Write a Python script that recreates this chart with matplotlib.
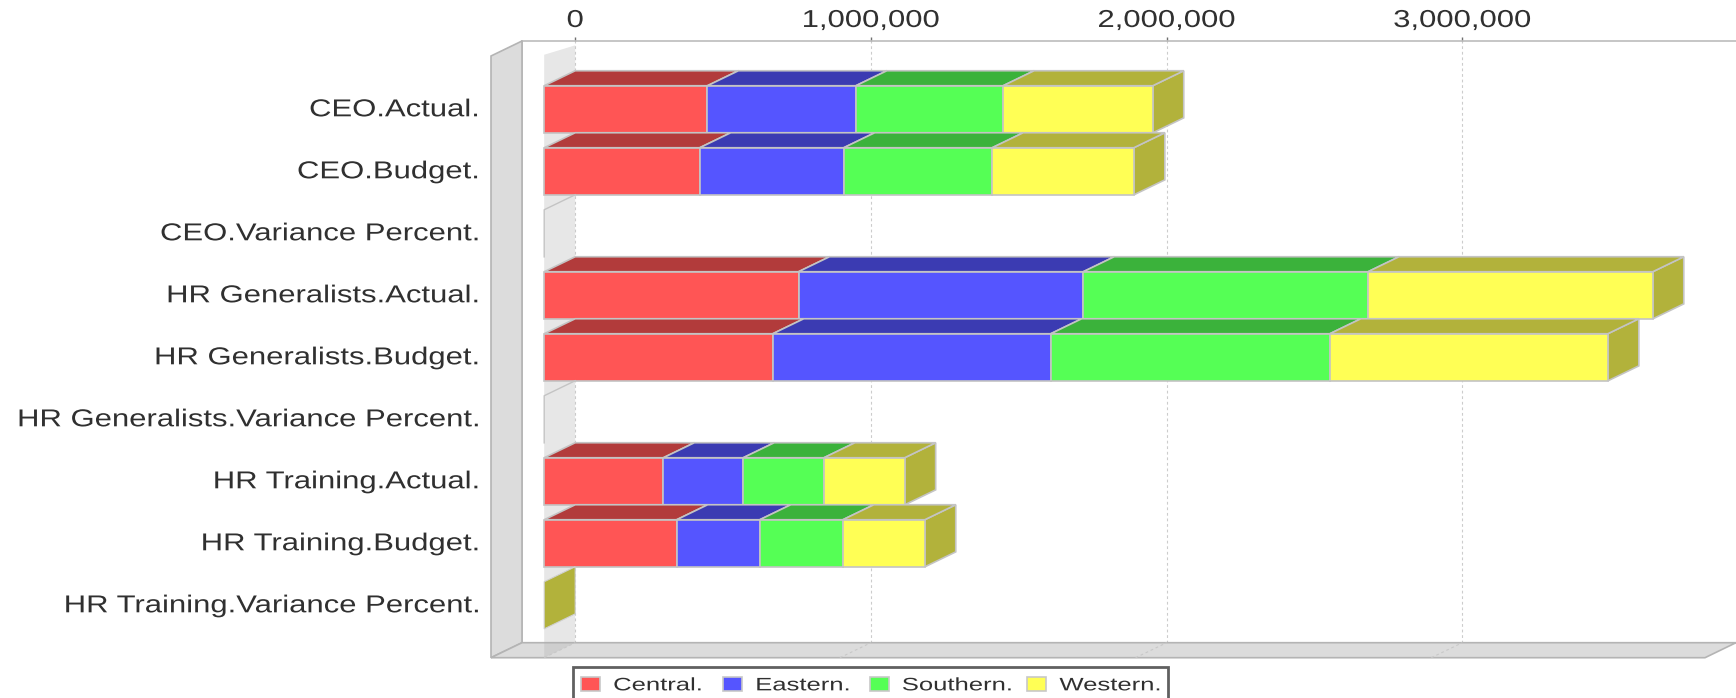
#!/usr/bin/env python3

import matplotlib
matplotlib.use("Agg")
import matplotlib.pyplot as plt
from matplotlib.patches import Patch, Rectangle
from matplotlib.patheffects import AbstractPathEffect
from matplotlib.ticker import StrMethodFormatter
from matplotlib.transforms import Affine2D

categories = [
    "CEO.Actual.", "CEO.Budget.", "CEO.Variance Percent.",
    "HR Generalists.Actual.", "HR Generalists.Budget.", "HR Generalists.Variance Percent.",
    "HR Training.Actual.", "HR Training.Budget.", "HR Training.Variance Percent.",
]
central = [552000, 526000, 0, 860000, 773000, 0, 403000, 448000, 0]
eastern = [502000, 487000, 0, 963000, 940000, 0, 270000, 281000, 0]
southern = [498000, 502000, 0, 963000, 944000, 0, 273000, 281000, 0]
western = [506000, 479000, 0, 963000, 940000, 0, 273000, 277000, 0]
# the zero rows are only painted for the last category in the source chart
zero_row_painted = [False, False, False, False, False, False, False, False, True]
x_ticks = [0, 1000000, 2000000, 3000000]

series_names = ["Central.", "Eastern.", "Southern.", "Western."]
face_colors = ["#ff5555", "#5555ff", "#55ff55", "#ffff55"]
dark_colors = ["#b23b3b", "#3b3bb2", "#3bb23b", "#b2b23b"]

WIDTH, HEIGHT = 1736, 698
PLANE_LEFT, PLANE_RIGHT = 491, 1705
PLANE_TOP, PLANE_BOTTOM = 56, 657.7
DEPTH_X, DEPTH_Y = 31, 15
ZERO_PX = 544.2
PX_PER_UNIT = 295.7 / 1000000
FIRST_ROW_PX = 109.3
ROW_PX = 62
BAR_HEIGHT = 0.76
EDGE = "#c4c4c4"
TEXT = "#303030"


# The source image is stretched sideways, the glyphs are wider than any font here.
class StretchX(AbstractPathEffect):
    def __init__(self, factor, anchor):
        super().__init__()
        self.factor = factor
        self.anchor = anchor

    def draw_path(self, renderer, gc, tpath, affine, rgbFace=None):
        box = tpath.get_extents()
        fixed = {"left": box.x0, "right": box.x1, "center": (box.x0 + box.x1) / 2}[self.anchor]
        local = Affine2D().translate(-fixed, 0).scale(self.factor, 1).translate(fixed, 0)
        renderer.draw_path(gc, tpath, local + affine, rgbFace)


def plane_axes(fig, shift_x, shift_y):
    left = (PLANE_LEFT + shift_x) / WIDTH
    bottom = (HEIGHT - PLANE_BOTTOM + shift_y) / HEIGHT
    ax = fig.add_axes([left, bottom, (PLANE_RIGHT - PLANE_LEFT) / WIDTH, (PLANE_BOTTOM - PLANE_TOP) / HEIGHT])
    ax.set_xlim((PLANE_LEFT - ZERO_PX) / PX_PER_UNIT, (PLANE_RIGHT - ZERO_PX) / PX_PER_UNIT)
    ax.set_ylim((PLANE_BOTTOM - FIRST_ROW_PX) / ROW_PX, (PLANE_TOP - FIRST_ROW_PX) / ROW_PX)
    return ax


plt.rcParams["font.family"] = ["Liberation Sans", "DejaVu Sans"]
fig = plt.figure(figsize=(WIDTH / 100, HEIGHT / 100), dpi=100)

# back plane: top axis and the dashed grid
back = plane_axes(fig, DEPTH_X, DEPTH_Y)
back.xaxis.tick_top()
back.set_xticks(x_ticks)
back.xaxis.set_major_formatter(StrMethodFormatter("{x:,.0f}"))
back.set_yticks([])
back.tick_params(axis="x", length=3, width=1, color="#707070", pad=3.5, labelsize=17.6, labelcolor=TEXT)
back.grid(axis="x", color="#cccccc", linestyle=(0, (2.5, 2.5)), linewidth=0.8)
back.set_axisbelow(True)
for name in ["top", "left", "bottom"]:
    back.spines[name].set_color("#bcbcbc")
    back.spines[name].set_linewidth(1.2)
back.spines["right"].set_visible(False)
for t in back.get_xticklabels():
    t.set_path_effects([StretchX(1.27, "center")])

# front plane: bars and the category labels
ax = plane_axes(fig, 0, 0)
ax.patch.set_visible(False)
for s in ax.spines.values():
    s.set_visible(False)
ax.set_xticks([])
ax.set_yticks(range(len(categories)))
ax.set_yticklabels(categories)
ax.tick_params(axis="y", length=0, pad=9, labelsize=17.6, labelcolor=TEXT)
for t in ax.get_yticklabels():
    t.set_path_effects([StretchX(1.27, "right")])
    t.set_transform(t.get_transform() + Affine2D().translate(0, 1.5))

depth_x = DEPTH_X / PX_PER_UNIT
depth_y = DEPTH_Y / ROW_PX
x0, x1 = ax.get_xlim()
y_bottom, y_top = ax.get_ylim()
wall = dict(facecolor="#dcdcdc", edgecolor="#b4b4b4", linewidth=1.2, clip_on=False)

# left wall and floor
ax.fill([x0, x0, x0 + depth_x, x0 + depth_x],
        [y_bottom, y_top, y_top - depth_y, y_bottom - depth_y], **wall)
ax.fill([x0, x1, x1 + depth_x, x0 + depth_x],
        [y_bottom, y_bottom, y_bottom - depth_y, y_bottom - depth_y], **wall)

# band where the zero line runs through the depth
ax.fill([0, depth_x, depth_x, 0],
        [y_top - 0.02, y_top - depth_y + 0.07, y_bottom - depth_y, y_bottom],
        facecolor="#b0b0b0", edgecolor="none", alpha=0.3, clip_on=False)

# grid carried on across the floor
for tick in x_ticks:
    ax.plot([tick, tick + depth_x], [y_bottom, y_bottom - depth_y], color="#c8c8c8",
            linestyle=(0, (2.5, 2.5)), linewidth=0.8, clip_on=False)

half = BAR_HEIGHT / 2
series = [central, eastern, southern, western]
for row in range(len(categories)):
    if sum(s[row] for s in series) == 0:
        if zero_row_painted[row]:
            ax.fill([0, depth_x, depth_x, 0],
                    [row - half, row - half - depth_y, row + half - depth_y, row + half],
                    facecolor=dark_colors[3], edgecolor="#d0d0d0", linewidth=0.8)
        else:
            ax.plot([depth_x, 0, 0], [row - half - depth_y, row - half, row + half],
                    color="#c4c4c4", linewidth=1.0)
        continue
    start = 0
    for values, face, dark in zip(series, face_colors, dark_colors):
        end = start + values[row]
        ax.fill([end, end + depth_x, end + depth_x, end],
                [row - half, row - half - depth_y, row + half - depth_y, row + half],
                facecolor=dark, edgecolor=EDGE, linewidth=1.2)
        ax.fill([start, start + depth_x, end + depth_x, end],
                [row - half, row - half - depth_y, row - half - depth_y, row - half],
                facecolor=dark, edgecolor=EDGE, linewidth=1.2)
        ax.barh(row, values[row], left=start, height=BAR_HEIGHT, color=face, edgecolor=EDGE, linewidth=1.2)
        start = end

ax.set_xlim(x0, x1)
ax.set_ylim(y_bottom, y_top)

# frame runs off the bottom of the image, and the stretched labels are wider than the legend thinks
fig.add_artist(Rectangle((573 / WIDTH, 1 - 706 / HEIGHT), 595 / WIDTH, 39 / HEIGHT, transform=fig.transFigure,
                         facecolor="white", edgecolor="#606060", linewidth=2))
handles = [Patch(facecolor=c, edgecolor="#c8c8c8", linewidth=1.2) for c in face_colors]
legend = fig.legend(handles, series_names, ncol=4, fontsize=13, loc="upper left",
                    bbox_to_anchor=(581 / WIDTH, 1 - 677 / HEIGHT),
                    borderaxespad=0, borderpad=0, handlelength=1.05, handleheight=0.83,
                    handletextpad=0.75, columnspacing=2.6, frameon=False, labelcolor=TEXT)
for t in legend.get_texts():
    t.set_path_effects([StretchX(1.42, "left")])

fig.savefig("out.png", dpi=100)
